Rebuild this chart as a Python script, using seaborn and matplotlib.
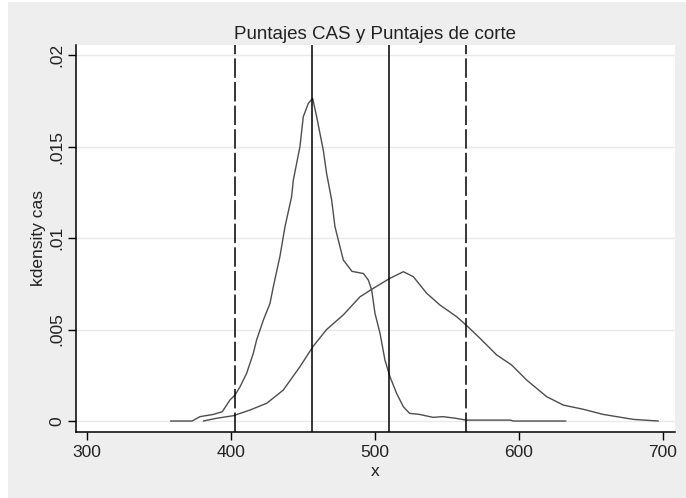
import matplotlib
matplotlib.use("Agg")
import matplotlib.pyplot as plt
from matplotlib.patches import Rectangle
import seaborn as sns
import pandas as pd

# ---- data ----
peak_x = [358, 373, 378.5, 387.7, 394, 399.3, 402.8, 406.3, 410.9, 415.5, 417.8,
          422.5, 427.1, 429.4, 434, 437.5, 442.1, 443.3, 447.9, 450.2, 453.7,
          456.7, 459.5, 464.1, 466.4, 469.9, 472.2, 478, 484, 492, 495.4, 497.7,
          500, 503.5, 506.9, 510.4, 515, 519.7, 524, 531, 540.3, 547, 556,
          563.4, 594, 596, 632.5]
peak_y = [0, 0, 0.00024, 0.00036, 0.00051, 0.00115, 0.00142, 0.00187, 0.00261,
          0.0037, 0.00443, 0.00552, 0.00643, 0.00734, 0.0090, 0.01062, 0.01226,
          0.01317, 0.0150, 0.01663, 0.01736, 0.01763, 0.01663, 0.0148, 0.01353,
          0.01208, 0.01062, 0.0088, 0.00818, 0.00806, 0.0077, 0.00716, 0.00588,
          0.00479, 0.00333, 0.00242, 0.00151, 0.00078, 0.00042, 0.00036, 0.0002,
          0.00024, 0.00015, 0.00005, 0.00005, 0, 0]

broad_x = [380.8, 390, 401.6, 413.2, 424.8, 436.3, 447.9, 457.2, 466.4, 478,
           489.6, 498.8, 510.4, 519.7, 526.6, 535.9, 545.1, 556.7, 563.2, 572.9,
           584.5, 594.9, 605.3, 619.2, 630.8, 644.7, 658.5, 679.4, 696.7]
broad_y = [0, 0.00015, 0.00029, 0.0006, 0.00097, 0.00169, 0.00297, 0.0041, 0.005,
           0.0058, 0.00679, 0.00725, 0.0078, 0.00816, 0.00789, 0.00698, 0.00634,
           0.0057, 0.00525, 0.00452, 0.00361, 0.00306, 0.00224, 0.00133, 0.00087,
           0.00064, 0.00036, 0.00009, 0]

cutoffs = [403, 456.5, 510, 563.5]
cutoff_kind = ["dashed", "solid", "solid", "dashed"]

x_ticks = [300, 400, 500, 600, 700]
y_ticks = [0, 0.005, 0.01, 0.015, 0.02]
y_tick_labels = ["0", ".005", ".01", ".015", ".02"]

title = "Puntajes CAS y Puntajes de corte"
xlabel = "x"
ylabel = "kdensity cas"

# ---- style ----
sns.set_style("white")
plt.rcParams["font.family"] = ["Liberation Sans", "DejaVu Sans"]
plt.rcParams["lines.scale_dashes"] = False

fig = plt.figure(figsize=(6.86, 4.98), dpi=100, facecolor="white")
fig.patches.append(Rectangle((8 / 686, 0), 1 - 8 / 686, 1 - 2 / 498,
                             transform=fig.transFigure, facecolor="#EEEEEE",
                             edgecolor="none", zorder=-10))
ax = fig.add_axes([76 / 686, 66 / 498, (675 - 76) / 686, (432 - 45) / 498])
ax.set_facecolor("white")

df_a = pd.DataFrame({"x": peak_x, "y": peak_y})
df_b = pd.DataFrame({"x": broad_x, "y": broad_y})
sns.lineplot(data=df_a, x="x", y="y", ax=ax, color="#4d4d4d", lw=1.0,
             estimator=None, sort=False, zorder=3)
sns.lineplot(data=df_b, x="x", y="y", ax=ax, color="#4d4d4d", lw=1.0,
             estimator=None, sort=False, zorder=3)

for c, k in zip(cutoffs, cutoff_kind):
    ls = (0, (14, 3)) if k == "dashed" else "-"
    ax.axvline(c, color="black", lw=1.1, linestyle=ls, zorder=4)

ax.set_xlim(292.4, 708.3)
ax.set_ylim(-0.0006, 0.02055)
ax.set_xticks(x_ticks)
ax.set_yticks(y_ticks)
ax.set_yticklabels(y_tick_labels)
ax.yaxis.grid(True, color="#EAEAEA", lw=1.0)
ax.xaxis.grid(False)
ax.set_axisbelow(True)

for s in ["top", "right"]:
    ax.spines[s].set_visible(False)
for s in ["left", "bottom"]:
    ax.spines[s].set_color("black")
    ax.spines[s].set_linewidth(1.1)

ax.tick_params(axis="both", direction="out", length=5.5, width=1.0,
               color="black", labelsize=12.5, labelcolor="#222222",
               left=True, bottom=True)
ax.tick_params(axis="x", pad=3.5)
ax.tick_params(axis="y", pad=3)
for lab in ax.get_yticklabels():
    lab.set_rotation(90)
    lab.set_va("center")
    lab.set_ha("right")

ax.set_xlabel(xlabel, fontsize=12.5, color="#222222", labelpad=3)
ax.set_ylabel(ylabel, fontsize=12.5, color="#222222", labelpad=2)
ax.set_title(title, fontsize=13.5, color="#222222", pad=4)

fig.savefig("out.png", dpi=100, facecolor="white")
